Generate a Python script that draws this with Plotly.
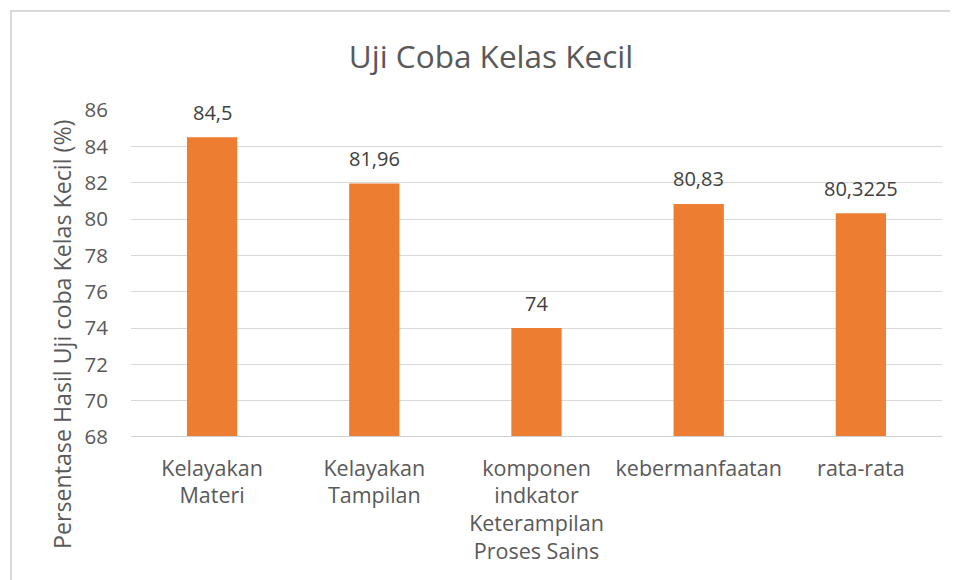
import plotly.graph_objects as go

categories = ["Kelayakan<br>Materi", "Kelayakan<br>Tampilan",
              "komponen<br>indkator<br>Keterampilan<br>Proses Sains",
              "kebermanfaatan", "rata-rata"]
values = [84.5, 81.96, 74, 80.83, 80.3225]
y_ticks = [68, 70, 72, 74, 76, 78, 80, 82, 84, 86]

FONT = "Open Sans"
GRAY = "#595959"
ORANGE = "#ED7D31"

W, H = 950, 572

fig = go.Figure()
fig.add_trace(go.Bar(x=categories, y=values, marker_color=ORANGE,
                     marker_line_width=0, width=0.31))

for c, v in zip(categories, values):
    fig.add_annotation(x=c, y=v, text=str(v).replace(".", ","), showarrow=False,
                       yshift=25, font=dict(family=FONT, size=20, color="#404040"))

fig.add_annotation(xref="paper", yref="paper", x=-0.085, y=0.312,
                   xanchor="center", yanchor="middle",
                   text="Persentase Hasil Uji coba Kelas Kecil (%)", textangle=-90,
                   showarrow=False, font=dict(family=FONT, size=23.2, color=GRAY))

fig.add_shape(type="rect", xref="paper", yref="paper", x0=-0.148, x1=1.2, y0=-0.6, y1=1.303,
              line=dict(color="#D9D9D9", width=2), fillcolor="rgba(0,0,0,0)", layer="below")

fig.update_layout(
    width=W, height=H,
    margin=dict(l=123, r=16, t=102, b=143),
    paper_bgcolor="white", plot_bgcolor="white",
    showlegend=False,
    title=dict(text="Uji Coba Kelas Kecil", x=483/W, xanchor="center",
               y=1-49/H, yanchor="middle",
               font=dict(family=FONT, size=31.5, color=GRAY)),
    xaxis=dict(showgrid=False, showline=False, ticks="",
               tickfont=dict(family=FONT, size=21.5, color=GRAY),
               ticklabelstandoff=16),
    yaxis=dict(range=[68, 86], tickvals=y_ticks, showgrid=True, gridcolor="#D9D9D9",
               gridwidth=1, zeroline=False, showline=False, ticks="",
               tickfont=dict(family=FONT, size=20.5, color=GRAY),
               ticklabelstandoff=22),
)
fig.add_hline(y=68, line_color="#D0D0D0", line_width=2)

fig.write_html("out.html")
